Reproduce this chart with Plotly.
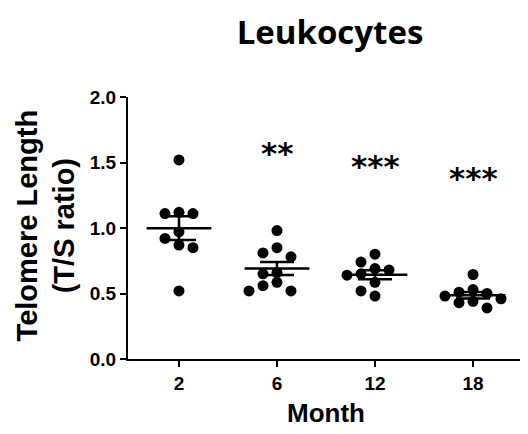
import numpy as np
import plotly.graph_objects as go

# ---- data ----
months = ["2", "6", "12", "18"]
m2 = [1.52, 1.12, 1.11, 1.11, 0.97, 0.92, 0.87, 0.85, 0.52]
m6 = [0.98, 0.85, 0.81, 0.78, 0.66, 0.65, 0.585, 0.56, 0.52, 0.52]
m12 = [0.80, 0.74, 0.69, 0.68, 0.65, 0.64, 0.585, 0.52, 0.48]
m18 = [0.645, 0.53, 0.51, 0.50, 0.48, 0.46, 0.44, 0.43, 0.39]
signif = ["", "**", "***", "***"]
groups = [m2, m6, m12, m18]

# ---- layout geometry (page body has an 8px margin) ----
W, H = 520, 426
ML, MR, MT, MB = 120, 5, 89, 75
XR = [-0.52, 3.51]
YR = [0, 2.0]
px_per_x = (W - ML - MR) / (XR[1] - XR[0])
px_per_y = (H - MT - MB) / (YR[1] - YR[0])


def swarm(vals, step_px=14, d_px=9.5):
    placed, offs = [], []
    for v in vals:
        y = v * px_per_y
        x = 0
        for k in [0, -1, 1, -2, 2, -3, 3]:
            x = k * step_px
            if all((x - a) ** 2 + (y - b) ** 2 >= d_px ** 2 for a, b in placed):
                break
        placed.append((x, y))
        offs.append(x / px_per_x)
    return offs


fig = go.Figure()
for i, vals in enumerate(groups):
    offs = swarm(vals)
    fig.add_trace(go.Scatter(
        x=[i + o for o in offs], y=vals, mode="markers",
        marker=dict(color="black", size=11), showlegend=False,
        hoverinfo="y"))
    mean = float(np.mean(vals))
    sem = float(np.std(vals, ddof=1) / np.sqrt(len(vals)))
    fig.add_trace(go.Scatter(
        x=[i - 0.33, i + 0.33], y=[mean, mean], mode="lines",
        line=dict(color="black", width=2.5), showlegend=False, hoverinfo="skip"))
    fig.add_trace(go.Scatter(
        x=[i], y=[mean], mode="markers", marker=dict(size=0.1, color="black"),
        error_y=dict(type="data", array=[sem], visible=True, color="black",
                     thickness=2.5, width=17),
        showlegend=False, hoverinfo="skip"))

for i, s in enumerate(signif):
    if s:
        fig.add_annotation(
            x=i, y=1.57 - (i - 1) * 0.093, text=s, showarrow=False,
            font=dict(family="DejaVu Sans", size=31, color="black", weight="bold"),
            xanchor="center", yanchor="middle")

fig.add_annotation(
    xref="paper", yref="paper", x=(38 - ML) / (W - ML - MR), y=0.51,
    text="Telomere Length<br>(T/S ratio)", textangle=-90, showarrow=False,
    font=dict(family="Liberation Sans", size=29, color="black", weight="bold"),
    xanchor="center", yanchor="middle")

fig.add_annotation(
    xref="paper", yref="paper", x=0.5, y=-(413 - 8 - (H - MB)) / (H - MT - MB),
    text="Month", showarrow=False,
    font=dict(family="Liberation Sans", size=26, color="black", weight="bold"),
    xanchor="center", yanchor="middle")

fig.update_layout(
    width=W, height=H,
    margin=dict(l=ML, r=MR, t=MT, b=MB),
    paper_bgcolor="white", plot_bgcolor="white",
    title=dict(text="Leukocytes", x=(322) / W, xanchor="center",
               y=1 - 24 / H, yanchor="middle", yref="container",
               font=dict(family="Open Sans", size=33, color="black", weight="bold")),
    xaxis=dict(range=XR, tickmode="array", tickvals=list(range(len(months))),
               ticktext=months, showgrid=False, zeroline=False,
               showline=True, linecolor="black", linewidth=2,
               ticks="outside", ticklen=6, tickwidth=2, tickcolor="black",
               tickfont=dict(family="Liberation Sans", size=19, color="black", weight="bold")),
    yaxis=dict(range=YR, tickmode="array", tickvals=[0, 0.5, 1.0, 1.5, 2.0],
               ticktext=["0.0", "0.5", "1.0", "1.5", "2.0"], showgrid=False,
               zeroline=False, showline=True, linecolor="black", linewidth=2,
               ticks="outside", ticklen=6, tickwidth=2, tickcolor="black",
               tickfont=dict(family="Liberation Sans", size=19, color="black", weight="bold")),
)

fig.write_html("out.html")
